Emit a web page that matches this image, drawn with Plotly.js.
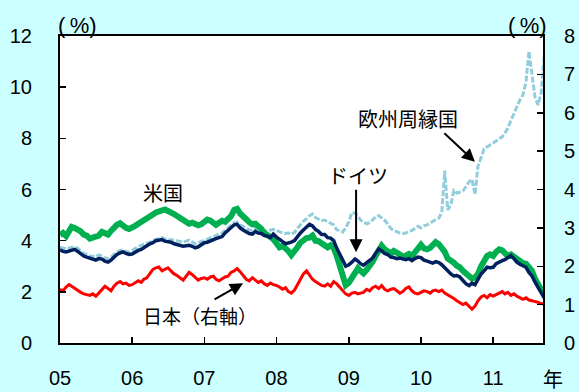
<!DOCTYPE html>
<html>
<head>
<meta charset="utf-8">
<script src="https://cdn.plot.ly/plotly-3.0.1.min.js"></script>
<style>
  html, body { margin: 0; padding: 0; background: #ccffff; }
  #chart { width: 579px; height: 392px; }
</style>
</head>
<body>
<div id="chart"></div>
<script>
// Long-term government bond yields, semi-monthly observations (1st and 16th of each month)
// from January 2005 to September 2011. Japan is plotted on the right axis.

// semi-monthly date grid: Jan 2005 .. Sep 2011
const startYear = 2005;
const nPoints = 162;
const dates = [];
for (let i = 0; i < nPoints; i++) {
  const y = startYear + Math.floor(i / 24);
  const m = Math.floor((i % 24) / 2) + 1;
  const d = (i % 2 === 0) ? '01' : '16';
  dates.push(y + '-' + String(m).padStart(2, '0') + '-' + d);
}

// 米国 (%)
const usYield = [
  4.22, 4.30, 4.18, 4.35, 4.54, 4.50, 4.44, 4.36, 4.24, 4.20, 4.08, 4.12, 4.10, 4.20, 4.34, 4.30, 4.24, 4.38, 4.52, 4.62, 4.68, 4.56, 4.50, 4.46,
  4.50, 4.58, 4.66, 4.72, 4.80, 4.86, 4.92, 5.02, 5.10, 5.12, 5.18, 5.22, 5.16, 5.12, 5.04, 4.96, 4.88, 4.76, 4.72, 4.66, 4.70, 4.66, 4.60, 4.64,
  4.70, 4.82, 4.78, 4.70, 4.62, 4.70, 4.78, 4.74, 4.86, 4.96, 5.20, 5.24, 5.06, 4.98, 4.84, 4.72, 4.64, 4.66, 4.58, 4.46, 4.30, 4.22, 4.12, 4.06,
  3.90, 3.74, 3.80, 3.72, 3.60, 3.44, 3.56, 3.74, 3.92, 4.04, 4.10, 4.12, 4.20, 4.00, 3.98, 3.90, 3.84, 3.74, 3.82, 3.72, 3.40, 3.00, 2.70, 2.26,
  2.36, 2.58, 2.76, 2.92, 2.82, 2.72, 2.86, 3.00, 3.18, 3.40, 3.60, 3.80, 3.66, 3.58, 3.50, 3.60, 3.54, 3.46, 3.36, 3.44, 3.48, 3.40, 3.56, 3.74,
  3.84, 3.70, 3.66, 3.72, 3.84, 3.94, 3.86, 3.70, 3.56, 3.30, 3.24, 3.14, 3.02, 2.96, 2.82, 2.70, 2.62, 2.52, 2.56, 2.70, 3.00, 3.24, 3.40, 3.46,
  3.40, 3.56, 3.66, 3.62, 3.50, 3.40, 3.46, 3.38, 3.28, 3.18, 3.12, 3.10, 2.96, 2.82, 2.50, 2.24, 2.08, 1.98
];

// ドイツ (%)
const deYield = [
  3.64, 3.58, 3.56, 3.60, 3.62, 3.66, 3.58, 3.48, 3.40, 3.36, 3.32, 3.28, 3.24, 3.30, 3.28, 3.20, 3.16, 3.24, 3.34, 3.46, 3.52, 3.56, 3.50, 3.46,
  3.48, 3.56, 3.62, 3.66, 3.74, 3.80, 3.88, 3.92, 4.00, 4.02, 4.04, 3.98, 3.96, 3.94, 3.88, 3.84, 3.82, 3.78, 3.80, 3.82, 3.78, 3.72, 3.76, 3.84,
  3.92, 3.94, 4.00, 4.04, 4.08, 4.12, 4.16, 4.30, 4.40, 4.50, 4.62, 4.64, 4.50, 4.42, 4.36, 4.28, 4.26, 4.36, 4.30, 4.28, 4.20, 4.18, 4.12, 4.26,
  4.14, 4.04, 3.96, 3.88, 3.90, 3.94, 4.00, 4.18, 4.30, 4.42, 4.54, 4.64, 4.58, 4.44, 4.36, 4.24, 4.24, 4.12, 4.10, 4.00, 3.70, 3.50, 3.24, 3.00,
  3.06, 3.16, 3.28, 3.20, 3.10, 3.04, 3.14, 3.20, 3.32, 3.50, 3.68, 3.60, 3.50, 3.46, 3.36, 3.34, 3.30, 3.32, 3.28, 3.26, 3.30, 3.22, 3.30, 3.36,
  3.34, 3.24, 3.20, 3.16, 3.12, 3.18, 3.14, 3.06, 2.94, 2.80, 2.70, 2.62, 2.64, 2.58, 2.42, 2.32, 2.24, 2.34, 2.28, 2.48, 2.70, 2.82, 2.96, 2.94,
  2.96, 3.10, 3.18, 3.22, 3.26, 3.34, 3.42, 3.30, 3.16, 3.08, 3.02, 2.96, 2.76, 2.62, 2.38, 2.16, 1.96, 1.76
];

// 欧州周縁国 (%)
const peripheryYield = [
  3.74, 3.70, 3.68, 3.72, 3.74, 3.76, 3.70, 3.60, 3.50, 3.46, 3.40, 3.38, 3.36, 3.44, 3.40, 3.32, 3.30, 3.36, 3.46, 3.56, 3.62, 3.64, 3.58, 3.56,
  3.62, 3.70, 3.76, 3.82, 3.86, 3.88, 3.94, 4.02, 4.06, 4.10, 4.12, 4.06, 4.02, 4.04, 4.00, 4.00, 3.96, 3.94, 3.98, 4.02, 3.94, 3.88, 3.92, 3.98,
  4.02, 4.06, 4.10, 4.14, 4.20, 4.26, 4.30, 4.40, 4.50, 4.60, 4.70, 4.72, 4.62, 4.56, 4.50, 4.42, 4.40, 4.48, 4.46, 4.40, 4.36, 4.38, 4.42, 4.44,
  4.40, 4.34, 4.30, 4.28, 4.30, 4.26, 4.32, 4.48, 4.62, 4.76, 4.86, 4.98, 5.04, 4.90, 4.84, 4.80, 4.80, 4.74, 4.68, 4.62, 4.42, 4.40, 4.34, 4.50,
  4.74, 5.10, 5.08, 4.96, 4.80, 4.72, 4.66, 4.70, 4.80, 4.92, 4.98, 4.88, 4.80, 4.66, 4.48, 4.40, 4.34, 4.30, 4.28, 4.30, 4.36, 4.40, 4.48, 4.56,
  4.50, 4.58, 4.62, 4.70, 4.76, 4.82, 4.88, 5.10, 6.74, 5.20, 5.40, 5.96, 5.86, 5.90, 5.94, 6.10, 6.30, 6.40, 5.80, 6.90, 7.30, 7.58, 7.66, 7.74,
  7.80, 7.90, 7.96, 8.06, 8.20, 8.40, 8.70, 8.96, 9.24, 9.50, 9.70, 10.20, 11.40, 10.60, 9.60, 9.30, 9.80, 11.20
];

// 日本 (%, right axis)
const jpYield = [
  1.40, 1.36, 1.46, 1.52, 1.48, 1.42, 1.38, 1.32, 1.28, 1.26, 1.24, 1.28, 1.22, 1.30, 1.40, 1.48, 1.42, 1.36, 1.48, 1.56, 1.60, 1.54, 1.56, 1.50,
  1.52, 1.56, 1.62, 1.58, 1.66, 1.70, 1.80, 1.92, 1.96, 1.98, 1.88, 1.92, 1.96, 1.88, 1.80, 1.76, 1.70, 1.64, 1.74, 1.84, 1.78, 1.70, 1.64, 1.68,
  1.70, 1.66, 1.72, 1.74, 1.66, 1.62, 1.68, 1.72, 1.74, 1.84, 1.88, 1.94, 1.86, 1.76, 1.66, 1.62, 1.70, 1.64, 1.58, 1.62, 1.54, 1.50, 1.56, 1.52,
  1.50, 1.46, 1.40, 1.44, 1.34, 1.30, 1.38, 1.52, 1.66, 1.80, 1.88, 1.76, 1.66, 1.60, 1.54, 1.50, 1.48, 1.54, 1.48, 1.60, 1.54, 1.46, 1.38, 1.28,
  1.24, 1.30, 1.32, 1.28, 1.30, 1.32, 1.40, 1.36, 1.44, 1.48, 1.42, 1.50, 1.40, 1.36, 1.40, 1.42, 1.36, 1.30, 1.34, 1.42, 1.46, 1.36, 1.30, 1.28,
  1.32, 1.36, 1.34, 1.30, 1.36, 1.38, 1.34, 1.38, 1.30, 1.26, 1.22, 1.16, 1.10, 1.06, 1.00, 1.04, 0.96, 0.88, 0.96, 1.10, 1.20, 1.24, 1.18, 1.26,
  1.22, 1.26, 1.30, 1.34, 1.28, 1.32, 1.24, 1.28, 1.22, 1.18, 1.14, 1.18, 1.12, 1.10, 1.08, 1.06, 1.02, 1.02
];

const yearTicks = ['2005-01-01', '2006-01-01', '2007-01-01', '2008-01-01', '2009-01-01', '2010-01-01', '2011-01-01'];
const yearLabels = ['05', '06', '07', '08', '09', '10', '11'];

const numFont = { family: 'Liberation Sans, Arial, sans-serif', size: 20, color: '#000' };
const jpFont = { family: 'Noto Sans CJK JP, sans-serif', size: 20, color: '#000' };
const unitFont = { family: 'Liberation Sans, Arial, sans-serif', size: 22, color: '#000' };

const traces = [
  { x: dates, y: peripheryYield, type: 'scatter', mode: 'lines', name: '欧州周縁国',
    line: { color: '#92CDDC', width: 3, dash: '6px,2px' } },
  { x: dates, y: usYield, type: 'scatter', mode: 'lines', name: '米国',
    line: { color: '#00B050', width: 6 } },
  { x: dates, y: deYield, type: 'scatter', mode: 'lines', name: 'ドイツ',
    line: { color: '#002060', width: 3.5 } },
  { x: dates, y: jpYield, type: 'scatter', mode: 'lines', name: '日本', yaxis: 'y2',
    line: { color: '#FF0000', width: 3 } }
];

function label(text, x, y, extra) {
  return Object.assign({ text: text, x: x, y: y, xref: 'paper', yref: 'paper',
    showarrow: false, font: jpFont, xanchor: 'center', yanchor: 'middle' }, extra || {});
}
function arrow(x, y, ax, ay) {
  return { text: '', x: x, y: y, xref: 'paper', yref: 'paper', ax: ax, ay: ay,
    showarrow: true, arrowhead: 2, arrowsize: 1.3, arrowwidth: 2, arrowcolor: '#000' };
}

const layout = {
  width: 579, height: 392,
  paper_bgcolor: '#ccffff', plot_bgcolor: '#ffffff',
  margin: { l: 60, r: 36, t: 36, b: 49 },
  showlegend: false,
  xaxis: {
    type: 'date', range: ['2005-01-01', '2011-09-10'],
    tickvals: yearTicks, ticktext: yearLabels,
    ticks: 'inside', ticklen: 6, tickwidth: 1.5, tickcolor: '#000',
    showline: true, linecolor: '#000', linewidth: 2, mirror: true,
    showgrid: false, zeroline: false, tickfont: numFont, ticklabelstandoff: 16
  },
  yaxis: {
    range: [0, 12], tickvals: [0, 2, 4, 6, 8, 10, 12],
    ticks: 'inside', ticklen: 6, tickwidth: 1.5, tickcolor: '#000',
    showline: true, linecolor: '#000', linewidth: 2,
    showgrid: false, zeroline: false, tickfont: numFont, ticklabelstandoff: 22
  },
  yaxis2: {
    range: [0, 8], tickvals: [0, 1, 2, 3, 4, 5, 6, 7, 8], overlaying: 'y', side: 'right',
    ticks: 'inside', ticklen: 6, tickwidth: 1.5, tickcolor: '#000',
    showline: true, linecolor: '#000', linewidth: 2,
    showgrid: false, zeroline: false, tickfont: numFont, ticklabelstandoff: 15
  },
  annotations: [
    label('(\u2009%)', 0.037, 1.035, { font: unitFont }),
    label('(\u2009%)', 0.967, 1.035, { font: unitFont }),
    label('年', 1.02, -0.115),
    label('米国', 0.213, 0.489),
    label('日本（右軸）', 0.29, 0.088, { font: Object.assign({}, jpFont, { size: 19 }) }),
    label('ドイツ', 0.617, 0.544),
    label('欧州周縁国', 0.72, 0.73),
    arrow(0.379, 0.195, -30, 17),
    arrow(0.613, 0.296, 0, -64),
    arrow(0.859, 0.590, -32, -30)
  ]
};

Plotly.newPlot('chart', traces, layout, { displayModeBar: false, staticPlot: true });
</script>
</body>
</html>
